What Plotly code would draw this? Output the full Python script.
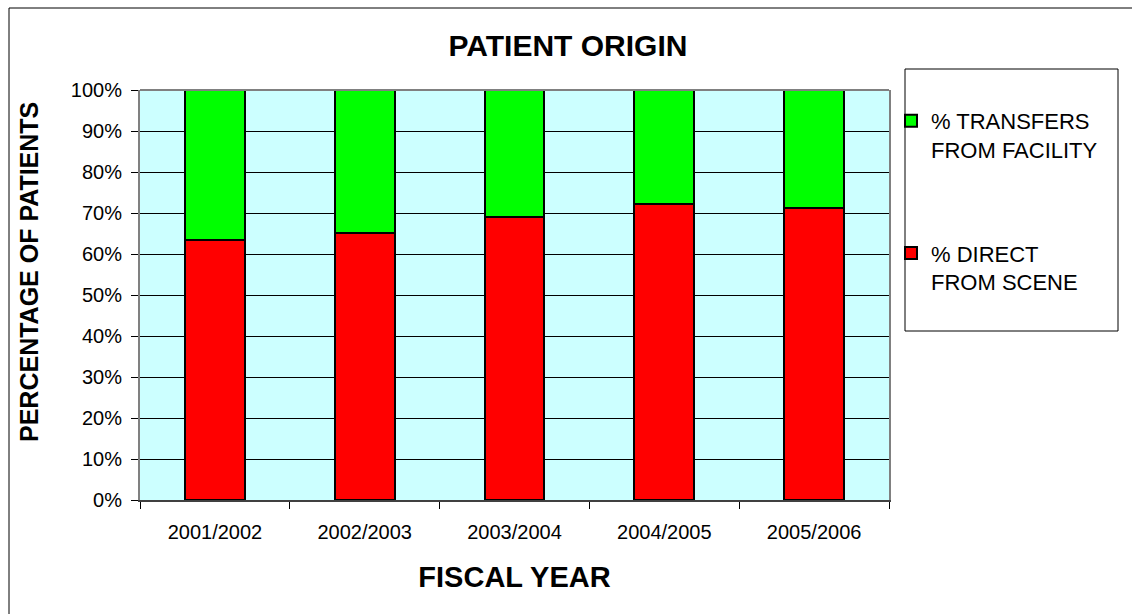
import plotly.graph_objects as go

years = ["2001/2002", "2002/2003", "2003/2004", "2004/2005", "2005/2006"]
direct_from_scene = [63.5, 65.1, 69.1, 72.2, 71.3]
transfers_from_facility = [36.5, 34.9, 30.9, 27.8, 28.7]
y_ticks = [0, 10, 20, 30, 40, 50, 60, 70, 80, 90, 100]
y_tick_text = [f"{v}%" for v in y_ticks]

FONT = "Liberation Sans, Arial, sans-serif"

fig = go.Figure()
fig.add_trace(go.Bar(
    x=years, y=direct_from_scene, name="% DIRECT<br>FROM SCENE",
    marker=dict(color="#FF0000", line=dict(color="black", width=2)),
    legendgroup="a", legendrank=2,
))
fig.add_trace(go.Bar(
    x=years, y=transfers_from_facility, name="% TRANSFERS<br>FROM FACILITY",
    marker=dict(color="#00FF00", line=dict(color="black", width=2)),
    legendgroup="b", legendrank=1,
))

L, R, T, B = 140, 243, 90, 114
W, H = 1132, 614
pw = W - L - R
ph = H - T - B

def px(x):
    return (x - L) / pw

def py(y):
    return (H - B - y) / ph

fig.update_layout(
    width=W, height=H,
    margin=dict(l=L, r=R, t=T, b=B, autoexpand=False),
    barmode="stack", bargap=0.6,
    paper_bgcolor="white", plot_bgcolor="#CCFFFF",
    font=dict(family=FONT, color="black", size=20),
    title=dict(text="PATIENT ORIGIN", x=px(568), xanchor="center", xref="paper",
               y=1 - 45 / H, yref="container", yanchor="middle",
               font=dict(size=30, weight="bold", family=FONT)),
    legend=dict(x=px(891), xanchor="left", y=py(100), yanchor="top",
                font=dict(size=22, family=FONT), bgcolor="rgba(0,0,0,0)",
                borderwidth=0, tracegroupgap=72, valign="top",
                traceorder="grouped"),
    xaxis=dict(showgrid=False, ticks="outside", tickson="boundaries", ticklen=7,
               tickcolor="black", showline=True, linecolor="#404040", linewidth=2,
               tickfont=dict(size=20), automargin=False, ticklabelstandoff=13,
               title=dict(text="FISCAL YEAR", standoff=25,
                          font=dict(size=29, weight="bold"))),
    yaxis=dict(range=[0, 100], tickvals=y_ticks, ticktext=y_tick_text,
               showgrid=True, gridcolor="black", gridwidth=1,
               ticks="outside", ticklen=7, tickcolor="black",
               showline=True, linecolor="#808080", linewidth=2, mirror=True,
               tickfont=dict(size=20), automargin=False, ticklabelstandoff=5,
               zeroline=False),
    shapes=[
        dict(type="line", xref="paper", yref="paper", x0=0, x1=1, y0=1, y1=1,
             line=dict(color="#808080", width=2)),
        dict(type="rect", xref="paper", yref="paper",
             x0=px(905), x1=px(1118), y0=py(331), y1=py(69),
             line=dict(color="black", width=1), fillcolor="rgba(0,0,0,0)"),
        dict(type="rect", xref="paper", yref="paper",
             x0=px(9), x1=px(1160), y0=py(640), y1=py(8),
             line=dict(color="black", width=1), fillcolor="rgba(0,0,0,0)"),
    ],
    annotations=[
        dict(text="PERCENTAGE OF PATIENTS", textangle=-90, xref="paper", yref="paper",
             x=px(29), y=py(272), xanchor="center", yanchor="middle", showarrow=False,
             font=dict(size=25, weight="bold", family=FONT)),
    ],
)

fig.write_html("out.html", config={"displayModeBar": False},
               post_script="document.body.style.margin='0';")
